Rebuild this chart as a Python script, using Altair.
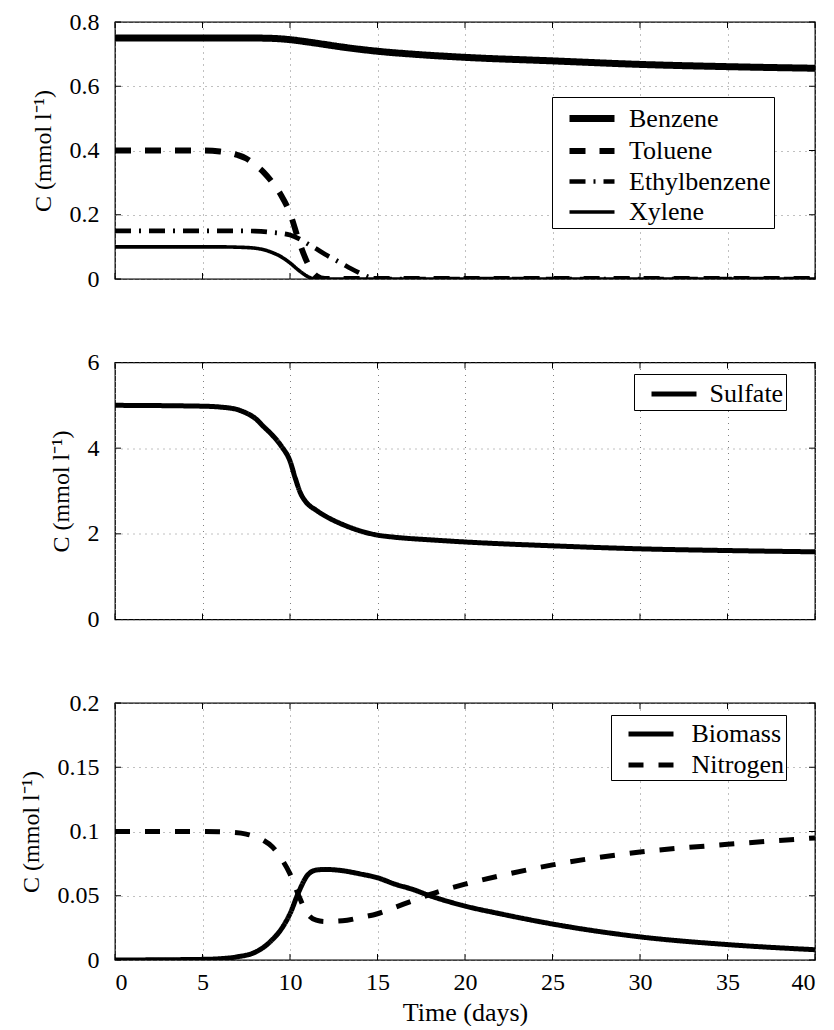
import altair as alt
import pandas as pd

# ---------------- data ----------------
benzene_t = [0, 5, 8, 9, 10, 11, 12, 13, 14, 15, 17, 20, 25, 30, 35, 40]
benzene_c = [0.75, 0.75, 0.75, 0.749, 0.745, 0.738, 0.73, 0.722, 0.715, 0.709, 0.70, 0.69, 0.679, 0.668, 0.661, 0.656]

toluene_t = [0, 5, 6, 7, 7.5, 8, 8.5, 9, 9.5, 10, 10.5, 11, 11.5, 12, 40]
toluene_c = [0.40, 0.40, 0.397, 0.386, 0.375, 0.356, 0.332, 0.30, 0.26, 0.205, 0.12, 0.05, 0.01, 0.0, 0.0]

ethyl_t = [0, 7, 8, 9, 10, 10.5, 11, 11.5, 12, 12.5, 13, 13.5, 14, 14.5, 15, 40]
ethyl_c = [0.15, 0.15, 0.149, 0.145, 0.137, 0.126, 0.11, 0.094, 0.077, 0.062, 0.047, 0.032, 0.018, 0.006, 0.0, 0.0]

xylene_t = [0, 6, 7, 7.5, 8, 8.5, 9, 9.5, 10, 10.5, 11, 11.5, 40]
xylene_c = [0.10, 0.10, 0.099, 0.098, 0.096, 0.091, 0.082, 0.069, 0.05, 0.027, 0.008, 0.0, 0.0]

sulfate_t = [0, 5, 6, 7, 7.5, 8, 8.5, 9, 9.5, 10, 10.3, 10.6, 10.9, 11.5, 12, 13, 14, 15, 16, 18, 20, 25, 30, 35, 40]
sulfate_c = [5.0, 4.98, 4.96, 4.9, 4.82, 4.7, 4.5, 4.3, 4.05, 3.7, 3.3, 2.95, 2.75, 2.55, 2.42, 2.22, 2.07, 1.97, 1.92, 1.86, 1.81, 1.72, 1.65, 1.61, 1.58]

biomass_t = [0, 5, 6, 7, 8, 8.5, 9, 9.5, 10, 10.5, 11, 11.5, 12, 13, 14, 15, 16, 17, 18, 20, 22, 25, 30, 35, 40]
biomass_c = [0.0, 0.0005, 0.001, 0.0025, 0.006, 0.01, 0.016, 0.024, 0.036, 0.053, 0.066, 0.070, 0.0705, 0.0695, 0.067, 0.064, 0.059, 0.055, 0.050, 0.042, 0.036, 0.028, 0.018, 0.012, 0.008]

nitrogen_t = [0, 5, 6.5, 7.5, 8, 8.5, 9, 9.5, 10, 10.5, 11, 11.5, 12, 13, 14, 15, 16, 17, 18, 20, 22.5, 25, 30, 35, 40]
nitrogen_c = [0.1, 0.1, 0.0995, 0.098, 0.096, 0.093, 0.088, 0.079, 0.067, 0.05, 0.036, 0.031, 0.030, 0.0305, 0.033, 0.036, 0.041, 0.046, 0.051, 0.059, 0.067, 0.074, 0.084, 0.090, 0.095]

x_ticks = [0, 5, 10, 15, 20, 25, 30, 35, 40]
y1_ticks = [0, 0.2, 0.4, 0.6, 0.8]
y2_ticks = [0, 2, 4, 6]
y3_ticks = [0, 0.05, 0.1, 0.15, 0.2]


def long_df(series):
    rows = []
    for name, ts, cs in series:
        for t, c in zip(ts, cs):
            rows.append({"t": t, "c": c, "s": name})
    return pd.DataFrame(rows)


df1 = long_df([("Benzene", benzene_t, benzene_c), ("Toluene", toluene_t, toluene_c),
               ("Ethylbenzene", ethyl_t, ethyl_c), ("Xylene", xylene_t, xylene_c)])
df2 = long_df([("Sulfate", sulfate_t, sulfate_c)])
df3 = long_df([("Biomass", biomass_t, biomass_c), ("Nitrogen", nitrogen_t, nitrogen_c)])

W, H = 700, 257
FONT = "Liberation Serif"
YTITLE = "C (mmol l\u207b\u00b9)"
SYMBOL = "M-1.5,0H1.5"


def panel(df, names, dashes, widths, ydom, yticks, leg_opts, last=False):
    xaxis = alt.Axis(values=x_ticks, labels=last, ticks=False, domain=False,
                     title="Time (days)" if last else None, grid=True)
    yaxis = alt.Axis(values=yticks, format="~g", ticks=False, domain=False,
                     title=YTITLE, grid=True)
    xs = alt.Scale(domain=[0, 40], nice=False)
    ys = alt.Scale(domain=ydom, nice=False)
    leg = alt.Legend(orient="none", title=None, symbolType=SYMBOL, symbolSize=900,
                     labelLimit=400, **leg_opts)
    lines = alt.Chart(df).mark_line(interpolate="monotone", color="black", clip=True).encode(
        x=alt.X("t:Q", scale=xs, axis=xaxis),
        y=alt.Y("c:Q", scale=ys, axis=yaxis),
        strokeDash=alt.StrokeDash("s:N", scale=alt.Scale(domain=names, range=dashes), legend=leg),
        strokeWidth=alt.StrokeWidth("s:N", scale=alt.Scale(domain=names, range=widths), legend=leg),
        order=alt.Order("t:Q"),
    )
    xt = pd.DataFrame({"t": x_ticks})
    yt = pd.DataFrame({"c": yticks})
    xb = alt.Chart(xt).mark_rule(color="black", strokeWidth=1).encode(
        x=alt.X("t:Q", scale=xs, axis=xaxis), y=alt.value(H), y2=alt.value(H - 6))
    xtop = alt.Chart(xt).mark_rule(color="black", strokeWidth=1).encode(
        x=alt.X("t:Q", scale=xs, axis=xaxis), y=alt.value(0), y2=alt.value(6))
    yl = alt.Chart(yt).mark_rule(color="black", strokeWidth=1).encode(
        y=alt.Y("c:Q", scale=ys, axis=yaxis), x=alt.value(0), x2=alt.value(6))
    yr = alt.Chart(yt).mark_rule(color="black", strokeWidth=1).encode(
        y=alt.Y("c:Q", scale=ys, axis=yaxis), x=alt.value(W), x2=alt.value(W - 6))
    return alt.layer(lines, xb, xtop, yl, yr).properties(width=W, height=H)


p1 = panel(df1, ["Benzene", "Toluene", "Ethylbenzene", "Xylene"],
           [[1, 0], [16, 14], [16, 8, 2, 8], [1, 0]], [7, 3.6, 3.6, 2.7],
           [0, 0.8], y1_ticks,
           dict(legendX=437, legendY=75, padding=3, rowPadding=-3, symbolOffset=18.5,
                labelOffset=18.5))
p2 = panel(df2, ["Sulfate"], [[1, 0]], [5, 5], [0, 6], y2_ticks,
           dict(legendX=519, legendY=11.5, padding=2.5, rowPadding=0, symbolOffset=20,
                labelOffset=18))
p3 = panel(df3, ["Biomass", "Nitrogen"], [[1, 0], [15, 15]], [5, 5],
           [0, 0.2], y3_ticks,
           dict(legendX=496, legendY=12, padding=1.5, rowPadding=0, symbolOffset=21,
                labelOffset=23),
           last=True)

chart = alt.vconcat(p1, p2, p3, spacing=83.5, bounds="flush").resolve_scale(
    strokeDash="independent", strokeWidth="independent"
).resolve_legend(
    strokeDash="independent", strokeWidth="independent"
).properties(
    padding={"left": 10, "top": 1, "right": 5, "bottom": 0},
    background="white",
).configure_view(
    stroke="black", strokeWidth=1.3
).configure_axis(
    labelFont=FONT, labelFontSize=24, labelColor="black", labelPadding=16,
    titleFont=FONT, titleFontSize=24, titleFontWeight="normal", titleColor="black",
    titlePadding=14,
    gridColor="#808080", gridDash=[1, 5], gridWidth=1, gridOpacity=1,
).configure_axisX(
    titleFontSize=26, titlePadding=5, labelPadding=10,
).configure_legend(
    labelFont=FONT, labelFontSize=26, labelColor="black",
    symbolStrokeColor="black",
    strokeColor="black", fillColor="white", cornerRadius=0,
)

chart.save("out.html", embed_options={"renderer": "svg", "actions": False})
